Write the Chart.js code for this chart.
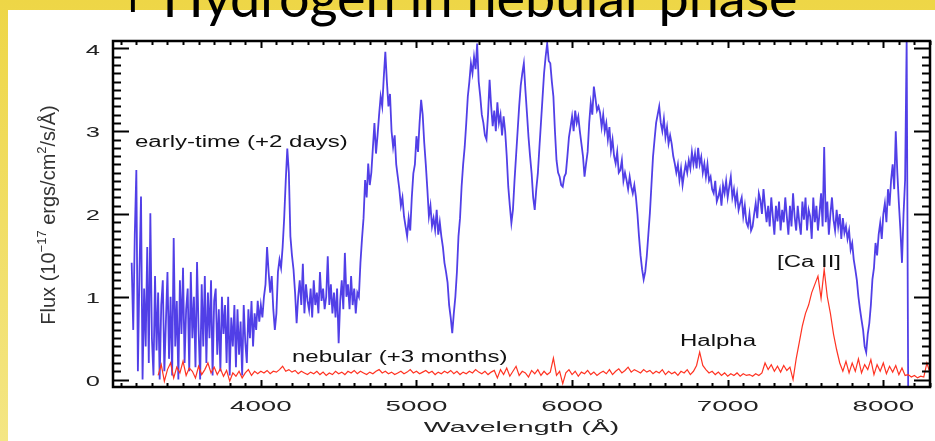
<!DOCTYPE html>
<html>
<head>
<meta charset="utf-8">
<script src="https://cdn.jsdelivr.net/npm/chart.js@4.4.1/dist/chart.umd.min.js"></script>
<style>
  html, body { margin: 0; padding: 0; background: #f0dc58; }
  #wrap { width: 935px; height: 441px; position: relative; }
</style>
</head>
<body>
<div id="wrap"><canvas id="spectrumChart" width="935" height="441"></canvas></div>
<script>
// Wavelength grids of the traced spectra (Angstrom)
const earlyStart = 3170, earlyStep = 10;
const nebularStart = 3340, nebularStep = 20;

// early-time (+2 days) flux, 1e-17 ergs/cm2/s/A, one row per 100 A
const earlyFlux = [
  1.41, 0.6, 1.75, 2.53, 0.1, 1.3, 2.21, 0.0, 1.1, 0.4,
  1.6, 0.2, 2.01, 0.5, 0.05, 1.25, 0.35, 1.05, 0.0, 0.9,
  1.2, 0.1, 0.7, 1.3, 0.25, 1.0, 0.05, 1.71, 0.4, 0.95,
  0.0, 1.2, 0.55, 1.35, 0.2, 0.85, 1.1, 0.1, 1.3, 0.5,
  1.0, 0.15, 1.42, 0.6, 0.0, 1.15, 0.4, 1.25, 0.2, 1.05,
  0.5, 1.2, 0.05, 0.95, 1.1, 0.3, 0.85, 0.1, 1.0, 0.55,
  0.9, 0.2, 1.0, 0.05, 0.75, 0.4, 0.9, 0.15, 0.85, 0.3,
  0.7, 0.05, 0.9, 0.45, 0.2, 0.85, 0.5, 0.95, 0.4, 0.8,
  0.6, 0.95, 0.7, 0.9, 0.75, 1.0, 1.15, 1.6, 1.3, 1.05,
  1.25, 0.85, 0.6, 0.8, 1.3, 1.45, 1.35, 1.6, 1.95, 2.4,
  2.79, 2.5, 1.73, 1.5, 1.33, 1.05, 0.68, 1.0, 1.2, 0.9,
  1.4, 0.8, 1.15, 0.95, 0.84, 1.1, 0.75, 1.2, 0.9, 1.05,
  0.8, 1.3, 0.95, 1.1, 0.85, 1.0, 1.49, 0.9, 1.15, 0.8,
  1.05, 0.75, 1.1, 0.44, 0.95, 1.2, 0.85, 1.53, 1.0, 1.15,
  0.85, 1.25, 0.9, 1.1, 0.8, 1.05, 1.0, 1.41, 1.7, 1.95,
  2.41, 2.2, 2.61, 2.35, 2.5, 2.8, 3.1, 2.73, 2.95, 3.2,
  3.42, 3.3, 3.65, 3.96, 3.6, 3.3, 3.45, 3.0, 2.81, 2.95,
  2.6, 2.45, 2.3, 2.1, 2.2, 1.97, 1.85, 1.73, 1.95, 1.8,
  2.2, 2.49, 2.6, 2.94, 2.75, 3.1, 3.38, 3.2, 2.86, 2.6,
  2.3, 1.97, 2.1, 1.85, 1.95, 1.81, 2.05, 1.75, 1.9, 1.73,
  1.6, 1.41, 1.3, 1.17, 0.9, 0.75, 0.56, 0.8, 1.0, 1.3,
  1.73, 1.95, 2.33, 2.6, 2.81, 3.1, 3.42, 3.6, 3.82, 3.7,
  3.9, 3.75, 4.06, 3.6, 3.42, 3.2, 3.1, 2.95, 2.9, 3.2,
  3.62, 3.3, 3.06, 3.25, 3.0, 3.35, 3.1, 3.2, 2.95, 3.18,
  3.0, 2.7, 2.33, 2.1, 1.89, 2.05, 2.4, 2.7, 3.0, 3.3,
  3.55, 3.7, 3.82, 3.5, 3.22, 2.93, 2.7, 2.49, 2.2, 2.05,
  2.3, 2.49, 2.8, 3.1, 3.4, 3.7, 3.9, 4.06, 3.85, 3.82,
  3.6, 3.42, 3.0, 2.65, 2.5, 2.45, 2.35, 2.33, 2.45, 2.49,
  2.7, 2.93, 3.05, 3.18, 3.0, 3.25, 3.1, 3.18, 3.0, 2.85,
  2.7, 2.45, 2.61, 2.75, 3.1, 3.34, 3.2, 3.54, 3.4, 3.25,
  3.3, 3.22, 3.05, 3.2, 3.0, 3.1, 2.9, 3.05, 2.77, 2.9,
  2.7, 2.61, 2.75, 2.5, 2.53, 2.65, 2.4, 2.5, 2.41, 2.3,
  2.45, 2.33, 2.25, 2.35, 2.21, 2.0, 1.73, 1.5, 1.33, 1.21,
  1.3, 1.49, 1.75, 2.01, 2.35, 2.69, 2.9, 3.1, 3.2, 3.3,
  3.1, 3.0, 3.15, 2.93, 3.05, 2.85, 2.95, 2.85, 2.7, 2.61,
  2.5, 2.6, 2.41, 2.55, 2.35, 2.49, 2.6, 2.5, 2.65, 2.55,
  2.75, 2.6, 2.73, 2.55, 2.8, 2.6, 2.69, 2.5, 2.61, 2.45,
  2.6, 2.4, 2.45, 2.3, 2.25, 2.4, 2.15, 2.21, 2.3, 2.1,
  2.35, 2.25, 2.4, 2.2, 2.33, 2.45, 2.2, 2.3, 2.13, 2.25,
  2.05, 2.13, 2.2, 1.97, 2.1, 1.9, 1.85, 2.0, 1.8, 1.85,
  2.0, 2.13, 1.95, 2.25, 2.17, 2.0, 2.3, 2.09, 1.9, 2.1,
  1.85, 2.2, 1.97, 1.75, 2.1, 1.91, 2.15, 1.8, 2.05, 1.9,
  2.2, 1.97, 1.75, 2.1, 1.85, 2.25, 1.97, 1.8, 2.1, 1.9,
  1.75, 2.15, 1.93, 2.2, 1.8, 2.05, 1.97, 1.7, 2.2, 1.9,
  2.1, 1.8, 2.01, 2.25, 1.85, 2.81, 1.9, 2.15, 1.75, 2.0,
  2.2, 1.93, 1.8, 2.05, 1.85, 2.0, 1.7, 1.95, 1.77, 1.85,
  1.7, 1.8, 1.57, 1.65, 1.45, 1.33, 1.2, 1.0, 0.85, 0.72,
  0.6, 0.4, 0.33, 0.55, 0.68, 0.9, 1.21, 1.35, 1.65, 1.5,
  1.75, 1.89, 1.7, 2.0, 2.13, 1.9, 2.3, 2.1, 2.41, 2.6,
  2.3, 3.0, 2.5, 2.13, 1.8, 1.41, 2.0, 2.41, 4.1, -0.2
];

// nebular (+3 months) flux, one row per 200 A
const nebularFlux = [
  0.05, 0.18, -0.02, 0.12, 0.2, 0.02, 0.15, 0.08, 0.22, 0.05,
  0.14, 0.1, 0.02, 0.16, 0.06, 0.12, 0.2, 0.08, 0.15, 0.06,
  0.13, 0.04, 0.11, -0.02, 0.08, 0.04, 0.1, 0.02, 0.08, 0.12,
  0.05, 0.1, 0.07, 0.1, 0.08, 0.11, 0.07, 0.1, 0.09, 0.12,
  0.16, 0.1, 0.12, 0.09, 0.11, 0.07, 0.1, 0.08, 0.06, 0.09,
  0.07, 0.1, 0.06, 0.09, 0.05, 0.08, 0.06, 0.1, 0.07, 0.09,
  0.06, 0.1, 0.08, 0.11, 0.07, 0.1, 0.08, 0.06, 0.09, 0.07,
  0.1, 0.12, 0.08, 0.1, 0.07, 0.09, 0.06, 0.08, 0.1, 0.07,
  0.09, 0.12, 0.08, 0.1, 0.07, 0.09, 0.11, 0.08, 0.1, 0.06,
  0.09, 0.07, 0.1, 0.08, 0.11, 0.07, 0.1, 0.06, 0.09, 0.07,
  0.1, 0.08, 0.12, 0.09, 0.07, 0.1, 0.06, 0.09, 0.11, 0.02,
  0.12, 0.06, 0.14, 0.04, 0.1, 0.16, 0.05, 0.1, 0.08, 0.03,
  0.11, 0.07, 0.12, 0.05, 0.1, 0.06, 0.09, 0.26, 0.05, 0.1,
  -0.05, 0.08, 0.12, 0.06, 0.1, 0.04, 0.09, 0.07, 0.11, 0.06,
  0.09, 0.05, 0.08, 0.1, 0.07, 0.12, 0.06, 0.1, 0.13, 0.08,
  0.11, 0.15, 0.09, 0.12, 0.1, 0.08, 0.12, 0.09, 0.11, 0.07,
  0.1, 0.08, 0.12, 0.06, 0.1, 0.07, 0.09, 0.05, 0.1, 0.08,
  0.12, 0.06, 0.1, 0.17, 0.33, 0.17, 0.12, 0.08, 0.1, 0.06,
  0.09, 0.05, 0.08, 0.04, 0.07, 0.05, 0.08, 0.04, 0.07, 0.05,
  0.06, 0.04, 0.07, 0.05, 0.08, 0.2, 0.12, 0.18, 0.1, 0.16,
  0.09, 0.17, 0.11, 0.15, 0.0, 0.25, 0.45, 0.65, 0.8, 0.9,
  1.05, 1.15, 1.25, 0.98, 1.33, 1.0, 0.8, 0.55, 0.36, 0.2,
  0.1, 0.22, 0.08, 0.2, 0.1, 0.25, 0.08, 0.18, 0.12, 0.24,
  0.06, 0.18, 0.1, 0.2, 0.07, 0.16, 0.09, 0.17, 0.06, 0.14,
  0.05, 0.06, 0.03, 0.05, 0.02, 0.04, 0.03, 0.2, 0.08
];

const xTicks = [4000, 5000, 6000, 7000, 8000];
const yTicks = [0, 1, 2, 3, 4];
const slideTitle = '+ Hydrogen in nebular phase';
const notes = [
  { text: 'early-time (+2 days)', x: 135, y: 143 },
  { text: 'nebular (+3 months)', x: 292, y: 358 },
  { text: 'Halpha', x: 680, y: 342 },
  { text: '[Ca II]', x: 777, y: 263 }
];

const toPoints = (start, step, arr) => arr.map((v, i) => ({ x: start + i * step, y: v }));

// text drawn wider than the font, like the IDL plot lettering
function wideText(ctx, text, x, y, sx, align) {
  ctx.save();
  ctx.translate(x, y);
  ctx.scale(sx, 1);
  ctx.textAlign = align || 'left';
  ctx.fillText(text, 0, 0);
  ctx.restore();
}

const slidePlugin = {
  id: 'slide',
  beforeDraw(chart) {
    const ctx = chart.ctx;
    const g = ctx.createLinearGradient(0, 0, 0, 441);
    g.addColorStop(0, '#eed646');
    g.addColorStop(1, '#f4e684');
    ctx.save();
    ctx.fillStyle = g;
    ctx.fillRect(0, 0, 935, 441);
    ctx.fillStyle = '#ffffff';
    ctx.fillRect(8, 10, 927, 431);
    ctx.restore();
  },
  afterDatasetsDraw(chart) {
    const ctx = chart.ctx;
    const a = chart.chartArea;
    const xs = chart.scales.x, ys = chart.scales.y;
    ctx.save();
    ctx.strokeStyle = '#000';
    ctx.lineWidth = 2;
    ctx.beginPath();
    // x ticks, every 100 A, top and bottom
    for (let w = 3100; w <= 8300; w += 100) {
      const px = Math.round(xs.getPixelForValue(w)) + 0.5;
      const len = w % 1000 === 0 ? 7 : 4;
      ctx.moveTo(px, a.bottom); ctx.lineTo(px, a.bottom - len);
      ctx.moveTo(px, a.top); ctx.lineTo(px, a.top + len);
    }
    // y ticks, every 0.1, left and right
    for (let k = 0; k <= 40; k++) {
      const py = Math.round(ys.getPixelForValue(k / 10)) + 0.5;
      const len = k % 10 === 0 ? 16 : 8;
      ctx.moveTo(a.left, py); ctx.lineTo(a.left + len, py);
      ctx.moveTo(a.right, py); ctx.lineTo(a.right - len, py);
    }
    ctx.stroke();
    ctx.lineWidth = 2.5;
    ctx.strokeRect(a.left, a.top, a.right - a.left, a.bottom - a.top);

    // tick labels
    ctx.fillStyle = '#222';
    ctx.font = '15px "Liberation Sans", Arial, sans-serif';
    ctx.textBaseline = 'middle';
    xTicks.forEach(w => wideText(ctx, String(w), xs.getPixelForValue(w), 407, 1.85, 'center'));
    yTicks.forEach(v => wideText(ctx, String(v), 100, ys.getPixelForValue(v) + 2, 1.7, 'right'));

    // axis titles
    wideText(ctx, 'Wavelength (\u00c5)', (a.left + a.right) / 2, 428, 1.9, 'center');

    ctx.save();
    ctx.translate(55, 215);
    ctx.rotate(-Math.PI / 2);
    ctx.textBaseline = 'alphabetic';
    ctx.textAlign = 'left';
    const big = '20px "Liberation Sans", Arial, sans-serif';
    const small = '13px "Liberation Sans", Arial, sans-serif';
    const parts = [
      { t: 'Flux (10', f: big, dy: 0 },
      { t: '\u221217', f: small, dy: -9 },
      { t: ' ergs/cm', f: big, dy: 0 },
      { t: '2', f: small, dy: -9 },
      { t: '/s/\u00c5)', f: big, dy: 0 }
    ];
    let total = 0;
    parts.forEach(p => { ctx.font = p.f; p.w = ctx.measureText(p.t).width; total += p.w; });
    let cx = -total / 2;
    ctx.fillStyle = '#333';
    parts.forEach(p => { ctx.font = p.f; ctx.fillText(p.t, cx, p.dy); cx += p.w; });
    ctx.restore();

    // annotations inside the plot
    ctx.fillStyle = '#111';
    ctx.font = '16px "Liberation Sans", Arial, sans-serif';
    ctx.textBaseline = 'middle';
    notes.forEach(n => wideText(ctx, n.text, n.x, n.y, 1.5, 'left'));
    ctx.restore();
  },
  afterDraw(chart) {
    const ctx = chart.ctx;
    ctx.save();
    ctx.font = '54px Lato, "Open Sans", sans-serif';
    const lead = ctx.measureText('+ Hydr').width;
    ctx.fillStyle = '#000';
    ctx.textBaseline = 'alphabetic';
    ctx.textAlign = 'left';
    ctx.fillText(slideTitle, 280 - lead, 17);
    ctx.restore();
  }
};

new Chart(document.getElementById('spectrumChart'), {
  type: 'line',
  data: {
    datasets: [
      {
        label: 'nebular (+3 months)',
        data: toPoints(nebularStart, nebularStep, nebularFlux),
        borderColor: '#ff3322',
        borderWidth: 1.2,
        order: 0
      },
      {
        label: 'early-time (+2 days)',
        data: toPoints(earlyStart, earlyStep, earlyFlux),
        borderColor: 'rgba(62, 42, 228, 0.9)',
        borderWidth: 1.8,
        order: 1
      }
    ]
  },
  options: {
    responsive: false,
    animation: false,
    layout: { padding: { left: 113, right: 5, top: 41, bottom: 54 } },
    elements: { point: { radius: 0 }, line: { tension: 0 } },
    plugins: {
      legend: { display: false },
      tooltip: { enabled: false }
    },
    scales: {
      x: { type: 'linear', min: 3050, max: 8300, display: false },
      y: { min: -0.09, max: 4.09, display: false }
    }
  },
  plugins: [slidePlugin]
});
</script>
</body>
</html>
